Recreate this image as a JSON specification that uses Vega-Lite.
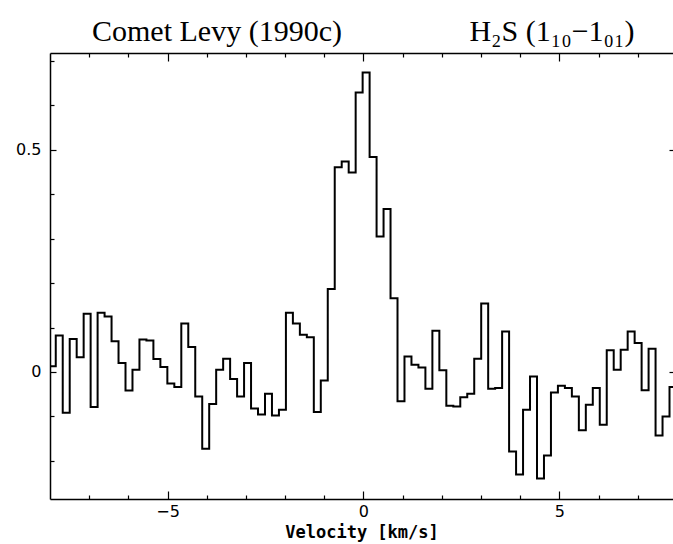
{
  "$schema": "https://vega.github.io/schema/vega-lite/v6.json",
  "width": 623,
  "height": 446,
  "autosize": {"type": "none"},
  "padding": {"left": 50, "top": 53, "right": 0, "bottom": 45},
  "background": "white",
  "config": {"view": {"stroke": null}, "axis": {"grid": false, "domainColor": "black", "tickColor": "black", "domainWidth": 1.5, "tickWidth": 1.2, "labelColor": "black", "titleColor": "black"}},
  "title": {
    "text": "Comet Levy (1990c)\u00a0\u00a0\u00a0\u00a0\u00a0\u00a0\u00a0\u00a0\u00a0\u00a0\u00a0\u00a0\u00a0\u00a0\u00a0\u00a0\u00a0H\u2082S (1\u2081\u2080\u22121\u2080\u2081)",
    "anchor": "start",
    "frame": "group",
    "font": "Liberation Serif",
    "fontSize": 30,
    "fontWeight": "normal",
    "color": "black",
    "dx": 42,
    "offset": 5
  },
  "data": {"values": [
    {"v": -8.031, "t": 0.013}, {"v": -7.853, "t": 0.082}, {"v": -7.675, "t": -0.092}, {"v": -7.497, "t": 0.074},
    {"v": -7.319, "t": 0.033}, {"v": -7.141, "t": 0.131}, {"v": -6.963, "t": -0.079}, {"v": -6.785, "t": 0.133},
    {"v": -6.607, "t": 0.125}, {"v": -6.429, "t": 0.069}, {"v": -6.251, "t": 0.020}, {"v": -6.073, "t": -0.042},
    {"v": -5.895, "t": 0.005}, {"v": -5.717, "t": 0.073}, {"v": -5.539, "t": 0.071}, {"v": -5.361, "t": 0.029},
    {"v": -5.183, "t": 0.011}, {"v": -5.005, "t": -0.026}, {"v": -4.827, "t": -0.034}, {"v": -4.649, "t": 0.109},
    {"v": -4.471, "t": 0.056}, {"v": -4.293, "t": -0.055}, {"v": -4.115, "t": -0.173}, {"v": -3.937, "t": -0.072},
    {"v": -3.759, "t": 0.005}, {"v": -3.581, "t": 0.030}, {"v": -3.403, "t": -0.016}, {"v": -3.225, "t": -0.055},
    {"v": -3.047, "t": 0.020}, {"v": -2.869, "t": -0.082}, {"v": -2.691, "t": -0.096}, {"v": -2.513, "t": -0.049},
    {"v": -2.335, "t": -0.098}, {"v": -2.157, "t": -0.085}, {"v": -1.979, "t": 0.133}, {"v": -1.801, "t": 0.109},
    {"v": -1.623, "t": 0.084}, {"v": -1.445, "t": 0.078}, {"v": -1.267, "t": -0.090}, {"v": -1.089, "t": -0.019},
    {"v": -0.911, "t": 0.187}, {"v": -0.733, "t": 0.461}, {"v": -0.555, "t": 0.474}, {"v": -0.377, "t": 0.449},
    {"v": -0.199, "t": 0.629}, {"v": -0.021, "t": 0.674}, {"v": 0.157, "t": 0.484}, {"v": 0.335, "t": 0.305},
    {"v": 0.513, "t": 0.367}, {"v": 0.691, "t": 0.166}, {"v": 0.869, "t": -0.066}, {"v": 1.047, "t": 0.035},
    {"v": 1.225, "t": 0.016}, {"v": 1.403, "t": 0.010}, {"v": 1.581, "t": -0.038}, {"v": 1.759, "t": 0.093},
    {"v": 1.937, "t": 0.004}, {"v": 2.115, "t": -0.076}, {"v": 2.293, "t": -0.078}, {"v": 2.471, "t": -0.057},
    {"v": 2.649, "t": -0.049}, {"v": 2.827, "t": 0.030}, {"v": 3.005, "t": 0.154}, {"v": 3.183, "t": -0.038},
    {"v": 3.361, "t": -0.036}, {"v": 3.539, "t": 0.091}, {"v": 3.717, "t": -0.179}, {"v": 3.895, "t": -0.231},
    {"v": 4.073, "t": -0.085}, {"v": 4.251, "t": -0.010}, {"v": 4.429, "t": -0.240}, {"v": 4.607, "t": -0.188},
    {"v": 4.785, "t": -0.046}, {"v": 4.963, "t": -0.031}, {"v": 5.141, "t": -0.036}, {"v": 5.319, "t": -0.055},
    {"v": 5.497, "t": -0.131}, {"v": 5.675, "t": -0.074}, {"v": 5.853, "t": -0.036}, {"v": 6.031, "t": -0.119},
    {"v": 6.209, "t": 0.049}, {"v": 6.387, "t": 0.005}, {"v": 6.565, "t": 0.050}, {"v": 6.743, "t": 0.091},
    {"v": 6.921, "t": 0.065}, {"v": 7.099, "t": -0.041}, {"v": 7.277, "t": 0.052}, {"v": 7.455, "t": -0.143},
    {"v": 7.633, "t": -0.100}, {"v": 7.811, "t": -0.034}, {"v": 7.989, "t": -0.034}
  ]},
  "resolve": {"axis": {"x": "independent", "y": "independent"}},
  "layer": [
    {
      "mark": {"type": "line", "interpolate": "step-after", "color": "black", "strokeWidth": 2, "clip": true},
      "encoding": {
        "x": {"field": "v", "type": "quantitative",
              "scale": {"domain": [-8, 7.9], "nice": false, "zero": false},
              "axis": {"orient": "bottom", "values": [-5, 0, 5], "tickSize": -8, "labelPadding": 12,
                       "labelFont": "DejaVu Sans", "labelFontSize": 16, "format": "d",
                       "title": "Velocity [km/s]", "titleFont": "DejaVu Sans Mono", "titleFontSize": 17,
                       "titleFontWeight": "bold", "titlePadding": 5}},
        "y": {"field": "t", "type": "quantitative",
              "scale": {"domain": [-0.286, 0.718], "nice": false, "zero": false},
              "axis": {"orient": "left", "values": [0, 0.5], "tickSize": -6, "labelPadding": 15, "format": "~g",
                       "labelFont": "DejaVu Sans", "labelFontSize": 16, "title": null}}
      }
    },
    {
      "mark": {"type": "line", "strokeOpacity": 0},
      "encoding": {
        "x": {"field": "v", "type": "quantitative",
              "axis": {"orient": "bottom", "values": [-7, -6, -4, -3, -2, -1, 1, 2, 3, 4, 6, 7], "tickSize": -4, "labels": false, "domain": false, "title": null}},
        "y": {"field": "t", "type": "quantitative",
              "axis": {"orient": "left", "values": [-0.2, -0.1, 0.1, 0.2, 0.3, 0.4, 0.6, 0.7], "tickSize": -4, "labels": false, "domain": false, "title": null}}
      }
    },
    {
      "mark": {"type": "line", "strokeOpacity": 0},
      "encoding": {
        "x": {"field": "v", "type": "quantitative",
              "axis": {"orient": "top", "values": [-5, 0, 5], "tickSize": -8, "labels": false, "title": null}},
        "y": {"field": "t", "type": "quantitative",
              "axis": {"orient": "right", "values": [0, 0.5], "tickSize": -4, "labels": false, "domain": false, "title": null}}
      }
    },
    {
      "mark": {"type": "line", "strokeOpacity": 0},
      "encoding": {
        "x": {"field": "v", "type": "quantitative",
              "axis": {"orient": "top", "values": [-7, -6, -4, -3, -2, -1, 1, 2, 3, 4, 6, 7], "tickSize": -4, "labels": false, "domain": false, "title": null}},
        "y": {"field": "t", "type": "quantitative", "axis": null}
      }
    }
  ]
}
